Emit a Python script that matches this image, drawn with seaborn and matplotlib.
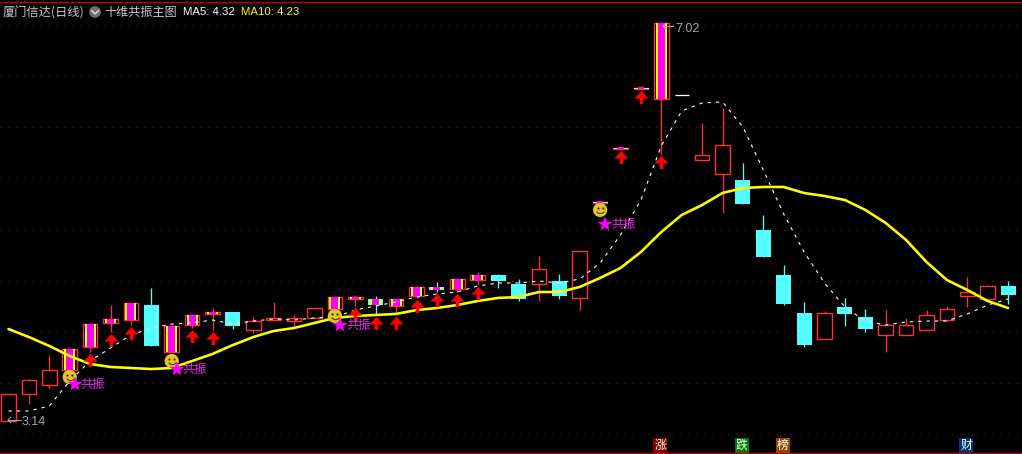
import matplotlib
matplotlib.use('Agg')
import matplotlib.pyplot as plt
from matplotlib.path import Path
from matplotlib.lines import Line2D
from matplotlib.transforms import offset_copy
import seaborn as sns
import pandas as pd

opens = [3.140, 3.404, 3.491, 3.638, 3.862, 4.096, 4.125, 4.271, 3.813, 4.076,
         4.184, 4.203, 4.028, 4.125, 4.115, 4.145, 4.232, 4.330, 4.330, 4.262,
         4.359, 4.447, 4.427, 4.515, 4.564, 4.476, 4.476, 4.505, 4.340, 5.266,
         5.792, 6.377, 6.280, 6.319, 5.685, 5.549, 5.490, 5.003, 4.564, 4.193,
         3.940, 4.252, 4.154, 3.979, 3.979, 4.028, 4.125, 4.359, 4.330, 4.457]
closes = [3.404, 3.540, 3.638, 3.842, 4.086, 4.135, 4.291, 3.872, 4.067, 4.174,
          4.203, 4.067, 4.115, 4.145, 4.145, 4.242, 4.349, 4.349, 4.271, 4.330,
          4.447, 4.418, 4.525, 4.564, 4.505, 4.330, 4.622, 4.359, 4.798, 5.276,
          5.802, 6.387, 7.021, 6.319, 5.734, 5.831, 5.256, 4.739, 4.281, 3.881,
          4.193, 4.184, 4.037, 4.076, 4.076, 4.174, 4.232, 4.398, 4.457, 4.369]
highs = [3.404, 3.550, 3.784, 3.842, 4.096, 4.271, 4.291, 4.437, 4.067, 4.184,
         4.242, 4.203, 4.154, 4.301, 4.174, 4.242, 4.349, 4.369, 4.359, 4.330,
         4.447, 4.496, 4.525, 4.593, 4.574, 4.525, 4.749, 4.574, 4.798, 5.276,
         5.802, 6.387, 7.021, 6.319, 6.046, 6.192, 5.656, 5.149, 4.661, 4.301,
         4.213, 4.340, 4.232, 4.223, 4.145, 4.223, 4.262, 4.544, 4.466, 4.505]
lows = [3.140, 3.306, 3.462, 3.638, 3.813, 4.008, 4.076, 3.872, 3.813, 4.047,
        4.028, 4.037, 3.998, 4.125, 4.057, 4.145, 4.232, 4.262, 4.174, 4.174,
        4.340, 4.398, 4.398, 4.466, 4.437, 4.310, 4.310, 4.330, 4.222, 5.266,
        5.792, 6.377, 5.744, 6.319, 5.685, 5.168, 5.256, 4.739, 4.271, 3.862,
        3.940, 4.067, 4.008, 3.813, 3.979, 4.028, 4.115, 4.252, 4.330, 4.281]
ma5 = [3.238, 3.238, 3.287, 3.530, 3.725, 3.852, 3.979, 4.047, 4.086, 4.096,
       4.125, 4.086, 4.115, 4.135, 4.125, 4.145, 4.154, 4.222, 4.262, 4.301,
       4.349, 4.379, 4.398, 4.457, 4.486, 4.486, 4.505, 4.486, 4.525, 4.681,
       4.954, 5.295, 5.822, 6.163, 6.241, 6.251, 6.007, 5.588, 5.159, 4.788,
       4.486, 4.252, 4.115, 4.076, 4.106, 4.115, 4.115, 4.184, 4.271, 4.330]
ma10 = [4.037, 3.959, 3.872, 3.774, 3.696, 3.667, 3.657, 3.647, 3.657, 3.725,
        3.794, 3.881, 3.959, 4.018, 4.047, 4.096, 4.145, 4.164, 4.174, 4.184,
        4.222, 4.242, 4.271, 4.310, 4.340, 4.349, 4.398, 4.398, 4.447, 4.535,
        4.632, 4.788, 4.983, 5.149, 5.246, 5.363, 5.412, 5.422, 5.422, 5.363,
        5.334, 5.295, 5.198, 5.071, 4.905, 4.691, 4.515, 4.418, 4.310, 4.242]

signal_days = [3, 4, 5, 6, 8, 9, 10, 16, 17, 18, 19, 20, 21, 22, 23, 29, 30, 31, 32]
arrow_days = [4, 5, 6, 9, 10, 17, 18, 19, 20, 21, 22, 23, 30, 31, 32]
smile_days = [3, 8, 16, 29]
smile_prices = [3.569, 3.725, 4.164, 5.198]
star_prices = [3.501, 3.647, 4.076, 5.061]
star_label = '共振'
grid_prices = [7.001, 6.504, 6.007, 5.509, 5.003, 4.505, 4.008, 3.511, 3.014]
badge_days = [32, 36, 38, 47]
badge_labels = ['涨', '跌', '榜', '财']
badge_colors = ['#800000', '#007a00', '#8b4a00', '#00386b']

RED = '#ff3232'
CYAN = '#54ffff'
CJK = ['Noto Sans CJK SC', 'DejaVu Sans']
W, H = 1022, 454
PX = 0.72  # one pixel in points at dpi 100


def px(x, y):
    return x / W, 1 - y / H


def draw_candles(ax):
    days = range(len(opens))
    for i in days:
        color = RED if closes[i] > opens[i] else CYAN if closes[i] < opens[i] else 'white'
        ax.vlines(i, lows[i], highs[i], color=color, lw=PX * 1.3, zorder=2)
        top, bottom = max(opens[i], closes[i]), min(opens[i], closes[i])
        height = top - bottom
        if color == 'white':
            ax.hlines(top, i - 0.35, i + 0.35, color='white', lw=PX * 1.3, zorder=3)
        elif color == RED:
            ax.bar(i, height, bottom=bottom, width=0.72, facecolor='black', edgecolor=RED,
                   linewidth=PX * 1.4, zorder=3)
        else:
            ax.bar(i, height, bottom=bottom, width=0.74, facecolor=CYAN, edgecolor='none',
                   zorder=3, antialiased=False)
        if i in signal_days:
            if 29 <= i <= 31:
                # the three flat days only show as a thin bar
                ax.hlines(top, i - 0.34, i + 0.34, color='#ffff80', lw=PX, zorder=4, antialiased=False)
                ax.hlines(top, i - 0.16, i + 0.16, color='#ff00ff', lw=PX * 2, zorder=5, antialiased=False)
            else:
                ax.bar(i, height, bottom=bottom, width=0.54, color='#ffff00', edgecolor='none',
                       zorder=4, antialiased=False)
                ax.bar(i, height, bottom=bottom, width=0.34, color='#ff00ff', edgecolor='none',
                       zorder=5, antialiased=False)


def draw_arrows(fig, ax):
    verts = [(0, 6), (6.5, -1), (1.7, -1), (1.7, -6), (-1.7, -6), (-1.7, -1), (-6.5, -1), (0, 6)]
    arrow = Path(verts)
    trans = offset_copy(ax.transData, fig=fig, x=0, y=-8, units='dots')
    ax.plot(arrow_days, [lows[i] for i in arrow_days], ls='none', marker=arrow, ms=10.2,
            mfc='#ff0000', mec='none', transform=trans, zorder=7)


def draw_smileys(fig, ax):
    ax.scatter(smile_days, smile_prices, s=105, color='#e8c428', edgecolor='none', zorder=8)
    for dx in [-2.5, 2.5]:
        trans = offset_copy(ax.transData, fig=fig, x=dx, y=2, units='dots')
        ax.plot(smile_days, smile_prices, ls='none', marker='o', ms=1.6, mfc='#3a2c00',
                mec='none', transform=trans, zorder=9)
    smile = Path([(-4, 1), (-2, -2), (2, -2), (4, 1)],
                 [Path.MOVETO, Path.CURVE4, Path.CURVE4, Path.CURVE4])
    trans = offset_copy(ax.transData, fig=fig, x=0, y=-2, units='dots')
    ax.plot(smile_days, smile_prices, ls='none', marker=smile, ms=5.5, mfc='none',
            mec='#3a2c00', mew=0.7, transform=trans, zorder=9)

    star_trans = offset_copy(ax.transData, fig=fig, x=5, y=0, units='dots')
    ax.plot(smile_days, star_prices, ls='none', marker='*', ms=10.5, mfc='#ff00ff', mec='#ff00ff',
            mew=0.3, transform=star_trans, zorder=9)
    text_trans = offset_copy(ax.transData, fig=fig, x=11, y=0, units='dots')
    for day, price in zip(smile_days, star_prices):
        ax.text(day, price, star_label, color='#f020f0', fontsize=8.8, family=CJK, va='center',
                ha='left', transform=text_trans, zorder=9)


def draw_header(fig, ax):
    fig.text(*px(3, 12), '厦门信达(日线)', color='#c8c8c8', fontsize=8.8, family=CJK, va='center')
    fig.text(*px(104, 12), '十维共振主图', color='#c8c8c8', fontsize=8.7, family=CJK, va='center')
    fig.text(*px(183, 12), 'MA5: 4.32', color='white', fontsize=8.2, family='Liberation Sans', va='center')
    fig.text(*px(241, 12), 'MA10: 4.23', color='#ffff00', fontsize=8.2, family='Liberation Sans', va='center')
    ax.scatter(*px(95, 12), s=70, color='#707070', edgecolor='none', transform=fig.transFigure, zorder=10)
    chevron = [px(91.5, 10.5), px(95, 14), px(98.5, 10.5)]
    fig.add_artist(Line2D([p[0] for p in chevron], [p[1] for p in chevron], color='#e0e0e0', lw=1.0, zorder=11))


def create_chart():
    sns.set_theme(style='dark', rc={'axes.facecolor': 'black', 'figure.facecolor': 'black',
                                    'savefig.facecolor': 'black'})
    fig = plt.figure(figsize=(W / 100, H / 100), dpi=100)
    ax = fig.add_axes([0, 0, 1, 1])

    days = list(range(len(opens)))
    draw_candles(ax)

    df = pd.DataFrame({'day': days, 'ma5': ma5, 'ma10': ma10})
    sns.lineplot(data=df, x='day', y='ma5', color='white', linewidth=0.8, ax=ax, zorder=6,
                 linestyle=(0, (3, 4.5)))
    sns.lineplot(data=df, x='day', y='ma10', color='#ffff00', linewidth=PX * 2.6, ax=ax, zorder=6)

    draw_arrows(fig, ax)
    draw_smileys(fig, ax)

    # price labels at the low and the high
    fig.text(*px(22, 422), f'{min(lows):.2f}', color='#a8a8a8', fontsize=9, family='Liberation Sans', va='center')
    fig.add_artist(Line2D([px(8, 0)[0], px(21, 0)[0]], [px(0, 420)[1]] * 2, color='#a8a8a8', lw=PX))
    fig.add_artist(Line2D([px(11, 0)[0], px(8, 0)[0], px(11, 0)[0]], [px(0, 417)[1], px(0, 420)[1], px(0, 423)[1]],
                          color='#a8a8a8', lw=PX))
    fig.text(*px(675, 29), f'{max(highs):.2f}', color='#a8a8a8', fontsize=9, family='Liberation Sans', va='center')
    fig.add_artist(Line2D([px(663, 0)[0], px(673, 0)[0]], [px(0, 26)[1]] * 2, color='#a8a8a8', lw=PX))
    fig.add_artist(Line2D([px(666, 0)[0], px(663, 0)[0], px(666, 0)[0]], [px(0, 23)[1], px(0, 26)[1], px(0, 29)[1]],
                          color='#a8a8a8', lw=PX))

    for day, label, color in zip(badge_days, badge_labels, badge_colors):
        ax.text(day - 0.05, px(0, 445.5)[1], label, color='white', fontsize=8.6, family=CJK, ha='center', va='center',
                transform=ax.get_xaxis_transform(), zorder=10,
                bbox=dict(boxstyle='square,pad=0.08', facecolor=color, edgecolor='none'))

    draw_header(fig, ax)

    ax.set_xlim(-8.5 / 20.4, (W - 8.5) / 20.4)
    ax.set_ylim(7.245 - 0.00975 * H, 7.245)
    ax.set_xticks([])
    ax.set_yticks(grid_prices)
    ax.tick_params(left=False, labelleft=False)
    ax.set_xlabel('')
    ax.set_ylabel('')
    ax.grid(True, axis='y', color='#a01010', linewidth=PX, linestyle=(0, (1, 7)), zorder=1)
    ax.set_axisbelow(True)
    legend = ax.get_legend()
    if legend:
        legend.remove()

    for side in ['left', 'right', 'bottom', 'top']:
        ax.spines[side].set_visible(False)
    fig.add_artist(Line2D([0, 1], [px(0, 1.8)[1]] * 2, color='#c00000', lw=PX * 1.3))
    fig.add_artist(Line2D([0, 1], [px(0, 453)[1]] * 2, color='#c00000', lw=PX * 1.3))
    fig.add_artist(Line2D([px(23.5, 0)[0]] * 2, [px(0, 0)[1], px(0, 2)[1]], color='#c00000', lw=PX))

    plt.savefig('out.png', dpi=100)
    plt.close()


if __name__ == '__main__':
    create_chart()
